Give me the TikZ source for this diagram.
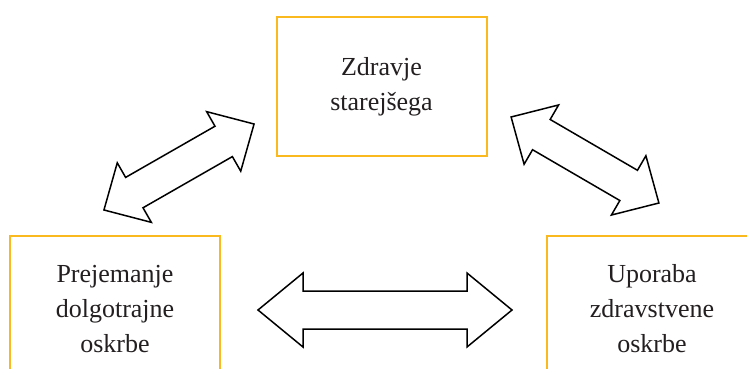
\documentclass[tikz,border=0pt]{standalone}
\usepackage{fontspec}
\setmainfont{Liberation Serif}
\definecolor{boxline}{RGB}{250,185,30}
\definecolor{txt}{RGB}{35,31,32}
\newcommand{\blkarrow}[6]{%
\begin{scope}[shift={(#1)}, rotate=#2]
\draw[arrowline] (-#3/2,0) -- (-#3/2+#6,-#4) -- (-#3/2+#6,-#5) -- (#3/2-#6,-#5) -- (#3/2-#6,-#4) -- (#3/2,0)
  -- (#3/2-#6,#4) -- (#3/2-#6,#5) -- (-#3/2+#6,#5) -- (-#3/2+#6,#4) -- cycle;
\end{scope}}
\begin{document}
\begin{tikzpicture}[x=1pt,y=-1pt,
  box/.style={draw=boxline, line width=2pt, fill=white, text=txt, align=center,
    minimum width=210pt, inner sep=0pt,
    font=\fontsize{26}{35}\selectfont},
  arrowline/.style={draw=black, line width=1.5pt, fill=white, line join=miter}]
\useasboundingbox (0,0) rectangle (747,369);
\clip (0,0) rectangle (747,369);
\fill[white] (0,0) rectangle (747,369);
\node[box, minimum height=139pt] (top) at (381.5,86.5) {Zdravje\\starejšega};
\node[box, minimum height=146pt] (left) at (115,309) {Prejemanje\\dolgotrajne\\oskrbe};
\node[box, minimum height=146pt] (right) at (652,309) {Uporaba\\zdravstvene\\oskrbe};
\coordinate (aL) at (179,167);
\coordinate (aR) at (585,160);
\coordinate (aH) at (385,310);
\blkarrow{aL}{29.8}{173}{34.3}{17.5}{35}
\blkarrow{aR}{-30.2}{171}{34.3}{17.5}{35}
\blkarrow{aH}{0}{254}{37}{19}{45}
\end{tikzpicture}
\end{document}
